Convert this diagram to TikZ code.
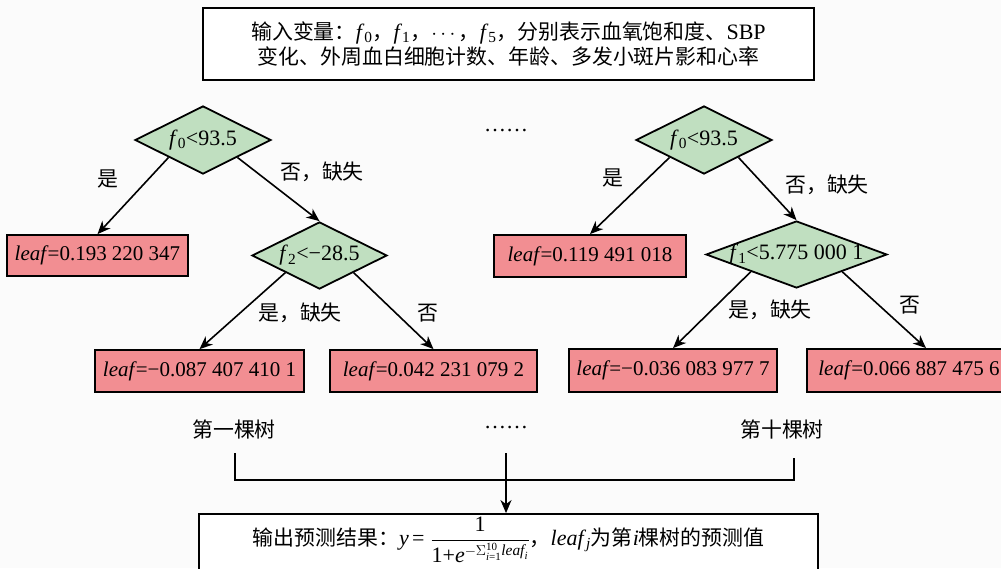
\documentclass[tikz,border=0pt]{standalone}
\usepackage{fontspec}
\usepackage{amsmath}
\setmainfont{Liberation Serif}
\newfontfamily\zhf[Scale=0.95]{Noto Sans CJK SC}
\usetikzlibrary{shapes.geometric,arrows.meta,calc}
\definecolor{bgc}{RGB}{251,251,251}
\definecolor{leafc}{RGB}{242,142,146}
\definecolor{diac}{RGB}{192,223,192}
\newcommand\fv[1]{\textit{f}\textsubscript{#1}}
\newcommand\lf{\textit{leaf}\kern-1pt}
\begin{document}
\begin{tikzpicture}[x=1pt,y=-1pt,
  font=\fontsize{22}{26}\selectfont,
  leafbox/.style={draw, fill=leafc, line width=1.8pt, minimum height=41pt, inner sep=0pt, font=\fontsize{21}{25}\selectfont},
  dia/.style={draw, fill=diac, diamond, line width=1.8pt, inner sep=0pt},
  plainbox/.style={draw, fill=white, line width=1.8pt, inner sep=0pt, align=center},
  arr/.style={-{Stealth[length=13pt,width=11pt,inset=4pt]}, line width=1.6pt},
  ln/.style={line width=1.6pt},
  lbl/.style={inner sep=0pt}]
\fill[bgc] (0,0) rectangle (1001,568);
\useasboundingbox (0,0) rectangle (1001,568);

% top box
\node[plainbox, minimum width=611pt, minimum height=72pt] (inp) at (508.5,44)
  {{\zhf 输入变量：}\fv{0}{\zhf ，}\fv{1}{\zhf ，}$\cdots${\zhf ，}\fv{5}{\zhf ，分别表示血氧饱和度、}SBP\\[-1pt]
   {\zhf 变化、外周血白细胞计数、年龄、多发小斑片影和心率}};

% tree 1
\node[dia, minimum width=136pt, minimum height=68pt, label={center:\fv{0}<93.5}] (d1) at (203,140) {};
\node[leafbox, minimum width=181pt] (l1) at (97.5,255.5) {\lf=0.193 220 347};
\node[dia, minimum width=135pt, minimum height=67pt, label={center:\fv{2}<−28.5}] (d2) at (319.5,255.5) {};
\node[leafbox, minimum width=209pt, minimum height=42pt] (l2) at (199.5,371) {\lf=−0.087 407 410 1};
\node[leafbox, minimum width=207pt, minimum height=42pt] (l3) at (433.5,371) {\lf=0.042 231 079 2};

\draw[arr] (d1.south west) -- (l1.north);
\draw[arr] (d1.south east) -- (d2.north);
\draw[arr] (d2.south west) -- (l2.north);
\draw[arr] (d2.south east) -- (l3.north);
\node[lbl] (e1) at (108,179) {\zhf 是};
\node[lbl] (e2) at (322,172) {\zhf 否，缺失};
\node[lbl] (e3) at (300,313) {\zhf 是，缺失};
\node[lbl] (e4) at (428,313) {\zhf 否};

% dots
\node[lbl] (dt1) at (506,131) {\ldots\ldots};

% tree 10
\node[dia, minimum width=136pt, minimum height=68pt, label={center:\fv{0}<93.5}] (d3) at (704,140) {};
\node[leafbox, minimum width=192pt, minimum height=42pt] (l4) at (590,256) {\lf=0.119 491 018};
\node[dia, minimum width=181pt, minimum height=67pt, label={center:\fv{1}<5.775 000 1}] (d4) at (796.5,254.5) {};
\node[leafbox, minimum width=208pt, minimum height=43pt] (l5) at (673,370.5) {\lf=−0.036 083 977 7};
\node[leafbox, minimum width=204pt, minimum height=43pt] (l6) at (909,370.5) {\lf=0.066 887 475 6};

\draw[arr] (d3.south west) -- (l4.north);
\draw[arr] (d3.south east) -- (d4.north);
\draw[arr] (d4.south west) -- (l5.north);
\draw[arr] (d4.south east) -- ($(l6.north)+(17,0)$);
\node[lbl] (e5) at (613,178) {\zhf 是};
\node[lbl] (e6) at (827,185) {\zhf 否，缺失};
\node[lbl] (e7) at (770,310) {\zhf 是，缺失};
\node[lbl] (e8) at (910,305) {\zhf 否};

% tree names
\node[lbl] (t1) at (234,430) {\zhf 第一棵树};
\node[lbl] (dt2) at (506,428) {\ldots\ldots};
\node[lbl] (t10) at (782,430) {\zhf 第十棵树};

% output box (its lower edge lies below the picture, as in the reference)
\node[plainbox, minimum width=619pt, minimum height=70pt] (out) at (508.5,549) {};
\node[lbl] (outtxt) at (508.5,540)
  {{\zhf 输出预测结果：}$\textit{y}\,\text{=}\;\dfrac{\text{1}}{\text{1+}\textit{e}^{-\Sigma_{\textit{i}\text{=1}}^{\text{10}}\textit{leaf}_{\textit{i}}}}${\zhf ，}\textit{leaf}\textsubscript{\textit{j}}{\zhf 为第}\textit{i}{\zhf 棵树的预测值}};

% bracket
\coordinate (bl) at (235,453);
\coordinate (bm) at (506,453);
\coordinate (br) at (794,458);
\coordinate (bh) at (0,480);
\draw[ln] (bl) -- (bl |- bh) -- (br |- bh) -- (br);
\draw[arr] (bm) -- (bm |- out.north);
\end{tikzpicture}
\end{document}
